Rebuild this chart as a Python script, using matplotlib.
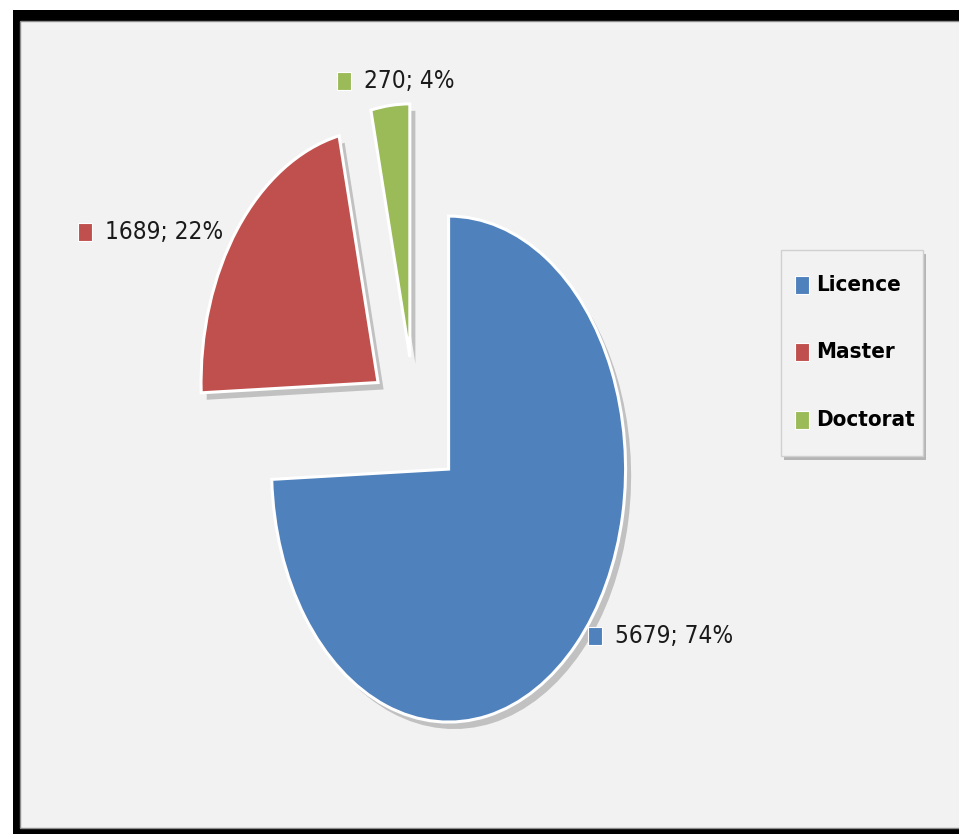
import matplotlib
matplotlib.use("Agg")
import matplotlib.pyplot as plt
from matplotlib.patches import Rectangle
import matplotlib.patheffects as pe

# ---- data ----
categories = ["Licence", "Master", "Doctorat"]
values = [5679, 1689, 270]
colors = ["#4F81BD", "#C0504D", "#9BBB59"]

# ---- layout constants (pixels of a 959x834 figure) ----
W, H = 959, 834
DPI = 100
PIE_CX, PIE_CY = 415, 423      # pie centre (px, from top)
RX, RY = 177, 253              # radii in px
EXPLODE = 0.263
FONT = ["DejaVu Sans"]

fig = plt.figure(figsize=(W / DPI, H / DPI), dpi=DPI, facecolor="white")

def fx(px):
    return px / W

def fy(py):
    return 1 - py / H

# frame
fig.patches.append(Rectangle((fx(13), -0.05), 1.1, fy(10) + 0.05,
                             transform=fig.transFigure, facecolor="black",
                             edgecolor="none", zorder=-3))
fig.patches.append(Rectangle((fx(20), fy(828)), 1.1, fy(21) - fy(828),
                             transform=fig.transFigure, facecolor="#F2F2F2",
                             edgecolor="#8C8C8C", linewidth=1, zorder=-2))

ax = fig.add_axes([0, 0, 1, 1])
ax.set_facecolor("none")
wedges, _ = ax.pie(values, colors=colors, startangle=90, counterclock=False,
                   explode=[EXPLODE] * len(values), radius=1, center=(0, 0),
                   wedgeprops=dict(edgecolor="white", linewidth=2.2))
for w in wedges:
    w.set_path_effects([pe.SimplePatchShadow(offset=(4, -5), shadow_rgbFace="black", alpha=0.2),
                        pe.Normal()])
ax.set_aspect("auto")
ax.set_xlim(-PIE_CX / RX, (W - PIE_CX) / RX)
ax.set_ylim(-(H - PIE_CY) / RY, PIE_CY / RY)
ax.axis("off")

# data labels
total = sum(values)
label_pos = [(588, 636), (78, 232), (337, 81)]  # marker left edge, centre y (px)
for v, c, (lx, ly) in zip(values, colors, label_pos):
    pct = round(100 * v / total)
    fig.patches.append(Rectangle((fx(lx), fy(ly + 9)), fx(14), 18 / H,
                                 transform=fig.transFigure, facecolor=c,
                                 edgecolor="white", linewidth=0.8, zorder=5))
    fig.text(fx(lx + 27), fy(ly), f"{v}; {pct}%", family=FONT, fontstretch="condensed",
             fontsize=17.5, color="#1a1a1a", ha="left", va="center", zorder=6)

# legend box (px)
LEG_L, LEG_T, LEG_R, LEG_B = 781, 250, 923, 456
LEG_ROWS = [285, 352, 420]
box = Rectangle((fx(LEG_L), fy(LEG_B)), fx(LEG_R - LEG_L), (LEG_B - LEG_T) / H,
                transform=fig.transFigure, facecolor="#F2F2F2", edgecolor="#D0D0D0",
                linewidth=1, zorder=4)
box.set_path_effects([pe.SimplePatchShadow(offset=(2, -3), shadow_rgbFace="black", alpha=0.25),
                      pe.Normal()])
fig.patches.append(box)
for name, c, ry in zip(categories, colors, LEG_ROWS):
    fig.patches.append(Rectangle((fx(795), fy(ry + 9)), fx(14), 18 / H,
                                 transform=fig.transFigure, facecolor=c,
                                 edgecolor="white", linewidth=0.8, zorder=5))
    fig.text(fx(816), fy(ry), name, family=FONT, fontstretch="condensed",
             fontsize=16, fontweight="bold", color="black", ha="left",
             va="center", zorder=6)

fig.savefig("out.png", dpi=DPI, facecolor=fig.get_facecolor())
